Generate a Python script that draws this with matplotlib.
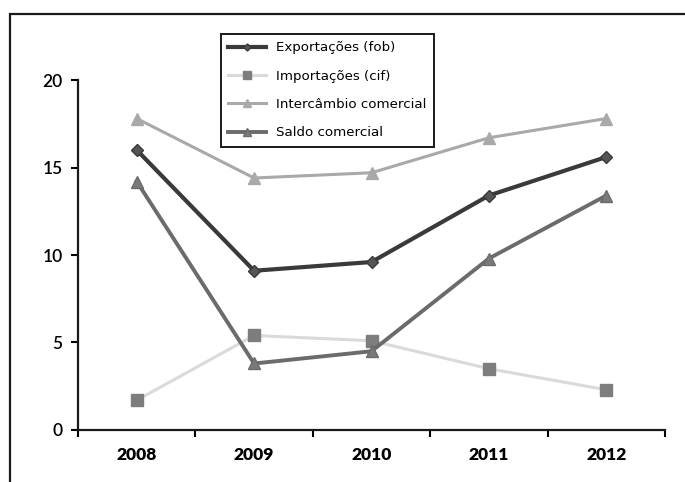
"""Comércio exterior 2008-2012: exportações, importações, intercâmbio e saldo."""

import matplotlib.pyplot as plt
from matplotlib.patches import Rectangle
from matplotlib.ticker import FixedLocator, NullFormatter
from matplotlib import font_manager

years = ["2008", "2009", "2010", "2011", "2012"]
exportacoes = [16.0, 9.1, 9.6, 13.4, 15.6]
importacoes = [1.7, 5.4, 5.1, 3.5, 2.3]
intercambio = [17.8, 14.4, 14.7, 16.7, 17.8]
saldo = [14.2, 3.8, 4.5, 9.8, 13.4]

plt.rcParams['font.family'] = ['Lato', 'DejaVu Sans']

# pick a narrow face for the legend if one is installed
names = {f.name for f in font_manager.fontManager.ttflist}
narrow = [n for n in ['Liberation Sans Narrow', 'Arial Narrow'] if n in names]
legend_prop = {'family': narrow + ['DejaVu Sans'], 'size': 10.5}
if not narrow:
    legend_prop = {'family': ['DejaVu Sans'], 'size': 9.6}

fig = plt.figure(figsize=(6.85, 4.82), dpi=100)
ax = fig.add_axes([0.1139, 0.1079, 0.8569, 0.7261])

# outer frame of the chart area (cut off on the right and bottom)
fig.patches.append(Rectangle((0.0146, -0.05), 1.2, 0.05 + 0.971, transform=fig.transFigure,
                             fill=False, edgecolor='#1a1a1a', linewidth=1.6))

x = list(range(len(years)))
ax.plot(x, importacoes, color='#dadada', linewidth=2.2, marker='s', markersize=9,
        markerfacecolor='#7d7d7d', markeredgecolor='#7d7d7d', label='Importações (cif)', zorder=2)
ax.plot(x, intercambio, color='#a9a9a9', linewidth=2.2, marker='^', markersize=9,
        markerfacecolor='#a9a9a9', markeredgecolor='#a9a9a9', label='Intercâmbio comercial', zorder=3)
ax.plot(x, saldo, color='#6b6b6b', linewidth=2.8, marker='^', markersize=9,
        markerfacecolor='#7a7a7a', markeredgecolor='#6b6b6b', label='Saldo comercial', zorder=4)
ax.plot(x, exportacoes, color='#3a3a3a', linewidth=3.0, marker='D', markersize=6,
        markerfacecolor='#555555', markeredgecolor='#3a3a3a', label='Exportações (fob)', zorder=5)

ax.set_xlim(-0.5, len(years) - 0.5)
ax.set_ylim(0, 20)
ax.set_yticks([0, 5, 10, 15, 20])

# category boundaries carry the tick marks, centres carry the labels
ax.xaxis.set_major_locator(FixedLocator([i - 0.5 for i in range(len(years) + 1)]))
ax.xaxis.set_major_formatter(NullFormatter())
ax.xaxis.set_minor_locator(FixedLocator(x))
ax.set_xticklabels(years, minor=True, fontweight='heavy', fontsize=12.5)
ax.tick_params(axis='x', which='minor', length=0, pad=12)
ax.tick_params(axis='x', which='major', length=5, width=1.5, direction='out')
ax.tick_params(axis='y', length=5, width=1.5, direction='out', labelsize=12.5, pad=6)
for lbl in ax.get_yticklabels():
    lbl.set_fontweight('semibold')

for side in ['top', 'right']:
    ax.spines[side].set_visible(False)
for side in ['left', 'bottom']:
    ax.spines[side].set_linewidth(1.6)
    ax.spines[side].set_color('#1a1a1a')

handles, labels = ax.get_legend_handles_labels()
order = [3, 0, 1, 2]
leg = fig.legend([handles[i] for i in order], [labels[i] for i in order],
                 loc='upper left', bbox_to_anchor=(0.313, 0.943), frameon=True, fancybox=False,
                 edgecolor='#1a1a1a', framealpha=1, handlelength=2.8, labelspacing=1.15,
                 borderpad=0.55, handletextpad=0.8, markerscale=0.6, prop=legend_prop)
leg.get_frame().set_linewidth(1.4)

plt.savefig("out.png", dpi=100)
